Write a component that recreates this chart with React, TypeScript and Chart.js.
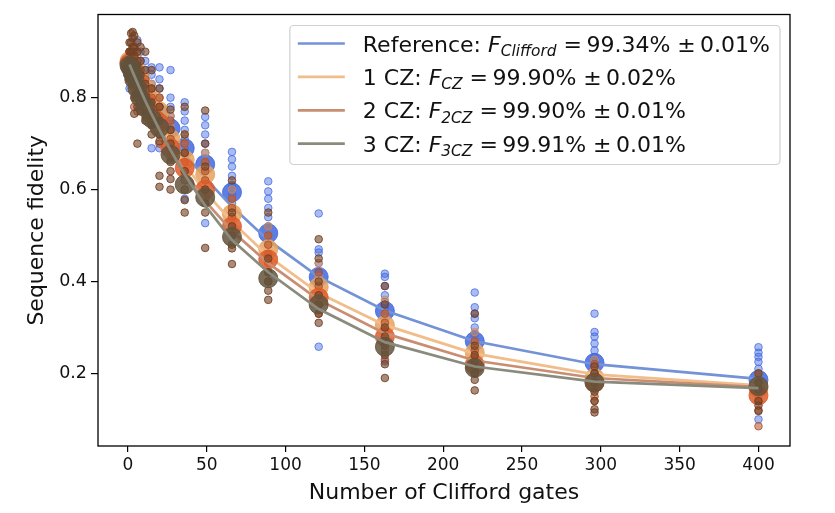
import React, { useEffect, useRef } from 'react';
import { Chart, registerables } from 'chart.js';

Chart.register(...registerables);

// ---------- data ----------
const seqLengths = [1, 2, 3, 4, 6, 8, 11, 15, 20, 27, 36, 49, 66, 89, 121, 163, 220, 296, 400];

const xTickValues = [0, 50, 100, 150, 200, 250, 300, 350, 400];
const yTickValues = [0.2, 0.4, 0.6, 0.8];

const legendPrefix = ['Reference: ', '1 CZ: ', '2 CZ: ', '3 CZ: '];
const legendSub = ['Clifford', 'CZ', '2CZ', '3CZ'];
const legendValue = ['99.34%', '99.90%', '99.90%', '99.91%'];
const legendErr = ['0.01%', '0.02%', '0.01%', '0.01%'];

// mean sequence fidelity (large markers)
const meanRef = [0.875, 0.865, 0.855, 0.85, 0.835, 0.82, 0.8, 0.79, 0.765, 0.733, 0.69, 0.655, 0.594, 0.505, 0.41, 0.336, 0.27, 0.223, 0.186];
const meanCZ1 = [0.88, 0.87, 0.865, 0.86, 0.845, 0.835, 0.815, 0.795, 0.77, 0.71, 0.665, 0.633, 0.547, 0.47, 0.388, 0.305, 0.245, 0.19, 0.168];
const meanCZ2 = [0.875, 0.87, 0.86, 0.85, 0.83, 0.81, 0.79, 0.765, 0.745, 0.69, 0.647, 0.6, 0.52, 0.448, 0.365, 0.28, 0.219, 0.18, 0.152];
const meanCZ3 = [0.87, 0.865, 0.855, 0.84, 0.82, 0.8, 0.78, 0.755, 0.735, 0.676, 0.611, 0.583, 0.497, 0.407, 0.35, 0.258, 0.212, 0.18, 0.172];

// fitted decay curves
const fitRef = [0.864, 0.858, 0.852, 0.846, 0.834, 0.822, 0.805, 0.782, 0.755, 0.72, 0.678, 0.625, 0.563, 0.49, 0.41, 0.337, 0.27, 0.22, 0.188];
const fitCZ1 = [0.868, 0.861, 0.854, 0.847, 0.834, 0.82, 0.8, 0.775, 0.745, 0.703, 0.655, 0.595, 0.53, 0.455, 0.375, 0.305, 0.243, 0.198, 0.174];
const fitCZ2 = [0.868, 0.86, 0.853, 0.845, 0.83, 0.815, 0.793, 0.766, 0.733, 0.69, 0.64, 0.575, 0.51, 0.44, 0.36, 0.287, 0.228, 0.19, 0.17];
const fitCZ3 = [0.872, 0.864, 0.856, 0.848, 0.832, 0.816, 0.793, 0.764, 0.73, 0.686, 0.633, 0.565, 0.49, 0.42, 0.34, 0.268, 0.215, 0.182, 0.168];

// individual random sequences (small markers), one list per sequence length
const scatterRef = [
  [0.9, 0.88, 0.86, 0.84, 0.82],
  [0.9, 0.88, 0.86, 0.84],
  [0.91, 0.89, 0.87, 0.85],
  [0.91, 0.89, 0.87, 0.85, 0.83],
  [0.925, 0.9, 0.88, 0.86, 0.84, 0.82],
  [0.9, 0.88, 0.86, 0.84, 0.82, 0.8],
  [0.88, 0.86, 0.84, 0.82, 0.8, 0.78],
  [0.866, 0.85, 0.83, 0.81, 0.79, 0.77, 0.69],
  [0.866, 0.84, 0.82, 0.8, 0.78, 0.76, 0.74, 0.69],
  [0.86, 0.8, 0.78, 0.76, 0.74, 0.72],
  [0.79, 0.77, 0.75, 0.73, 0.71, 0.69, 0.67, 0.58],
  [0.758, 0.74, 0.72, 0.7, 0.68, 0.66, 0.64, 0.527],
  [0.682, 0.666, 0.65, 0.63, 0.61, 0.59, 0.57, 0.55],
  [0.618, 0.596, 0.58, 0.56, 0.54, 0.52, 0.5, 0.48],
  [0.548, 0.47, 0.463, 0.44, 0.42, 0.4, 0.38, 0.258],
  [0.417, 0.41, 0.39, 0.37, 0.355, 0.34, 0.32, 0.3, 0.226],
  [0.376, 0.344, 0.33, 0.32, 0.3, 0.285, 0.27, 0.255, 0.24],
  [0.33, 0.29, 0.28, 0.265, 0.25, 0.235, 0.22, 0.2, 0.18],
  [0.257, 0.245, 0.236, 0.225, 0.21, 0.2, 0.19, 0.175, 0.1],
];
const scatterCZ1 = [
  [0.9, 0.88, 0.86],
  [0.9, 0.88, 0.86],
  [0.91, 0.89, 0.87, 0.85],
  [0.9, 0.88, 0.86, 0.84, 0.82],
  [0.89, 0.87, 0.85, 0.83, 0.81],
  [0.87, 0.85, 0.83, 0.81, 0.79],
  [0.85, 0.83, 0.81, 0.79, 0.77],
  [0.83, 0.81, 0.79, 0.77, 0.75],
  [0.8, 0.78, 0.76, 0.74, 0.72],
  [0.76, 0.74, 0.72, 0.7, 0.68],
  [0.72, 0.7, 0.68, 0.66, 0.64],
  [0.68, 0.66, 0.64, 0.62, 0.6],
  [0.6, 0.58, 0.56, 0.54, 0.52],
  [0.52, 0.5, 0.48, 0.46, 0.44],
  [0.44, 0.41, 0.39, 0.37, 0.35],
  [0.36, 0.33, 0.31, 0.29, 0.27],
  [0.29, 0.27, 0.255, 0.24, 0.225],
  [0.23, 0.21, 0.195, 0.18, 0.165],
  [0.2, 0.185, 0.17, 0.16, 0.15],
];
const scatterCZ2 = [
  [0.9, 0.88, 0.86, 0.84],
  [0.9, 0.88, 0.86, 0.84],
  [0.91, 0.89, 0.87, 0.85],
  [0.9, 0.88, 0.86, 0.84, 0.78],
  [0.88, 0.86, 0.84, 0.82, 0.8, 0.77],
  [0.86, 0.84, 0.82, 0.8, 0.78],
  [0.84, 0.82, 0.8, 0.78, 0.76],
  [0.82, 0.8, 0.78, 0.76, 0.74],
  [0.8, 0.78, 0.76, 0.74, 0.7],
  [0.75, 0.73, 0.71, 0.69, 0.67],
  [0.7, 0.68, 0.66, 0.64, 0.62],
  [0.66, 0.64, 0.62, 0.6, 0.58],
  [0.58, 0.56, 0.54, 0.52, 0.5],
  [0.5, 0.48, 0.46, 0.44, 0.42, 0.4],
  [0.42, 0.39, 0.37, 0.35, 0.33],
  [0.33, 0.31, 0.29, 0.27, 0.25, 0.23],
  [0.27, 0.25, 0.235, 0.22, 0.2],
  [0.22, 0.2, 0.185, 0.17, 0.15, 0.14],
  [0.18, 0.16, 0.14, 0.12, 0.085],
];
const scatterCZ3 = [
  [0.92, 0.9, 0.88, 0.86, 0.84],
  [0.94, 0.92, 0.9, 0.88, 0.86],
  [0.943, 0.93, 0.9, 0.88, 0.86, 0.84],
  [0.935, 0.91, 0.89, 0.86, 0.83, 0.8, 0.765],
  [0.92, 0.9, 0.87, 0.84, 0.81, 0.78, 0.7],
  [0.91, 0.88, 0.85, 0.82, 0.79, 0.77],
  [0.9, 0.86, 0.83, 0.8, 0.77, 0.75],
  [0.86, 0.82, 0.79, 0.76, 0.74, 0.72],
  [0.82, 0.78, 0.75, 0.72, 0.705, 0.63, 0.606],
  [0.774, 0.73, 0.7, 0.66, 0.64, 0.623, 0.6],
  [0.78, 0.72, 0.68, 0.64, 0.6, 0.577, 0.55],
  [0.772, 0.7, 0.65, 0.6, 0.57, 0.55, 0.473],
  [0.62, 0.55, 0.52, 0.5, 0.48, 0.472, 0.438],
  [0.55, 0.45, 0.42, 0.4, 0.38, 0.36],
  [0.492, 0.45, 0.4, 0.37, 0.35, 0.33, 0.31],
  [0.39, 0.35, 0.3, 0.28, 0.26, 0.24, 0.22, 0.19],
  [0.33, 0.26, 0.24, 0.225, 0.21, 0.2, 0.186, 0.163],
  [0.215, 0.2, 0.18, 0.16, 0.14, 0.122, 0.115],
  [0.2, 0.18, 0.165, 0.14, 0.13, 0.118],
];

// ---------- styles ----------
const FONT = '"DejaVu Sans", Verdana, sans-serif';
const smallColors = ['rgba(65,105,225,0.45)', 'rgba(215,140,75,0.5)', 'rgba(180,80,40,0.55)', 'rgba(118,68,38,0.62)'];
const smallBorders = ['rgba(65,105,225,0.75)', 'rgba(215,140,75,0.75)', 'rgba(170,75,40,0.8)', 'rgba(110,62,34,0.85)'];
const meanColors = ['rgba(65,105,225,0.85)', 'rgba(232,162,95,0.85)', 'rgba(222,92,42,0.85)', 'rgba(98,82,60,0.85)'];
const lineColors = ['#7393d6', '#f1bd8a', '#c98e72', '#8b8b7d'];

const meansAll = [meanRef, meanCZ1, meanCZ2, meanCZ3];
const fitsAll = [fitRef, fitCZ1, fitCZ2, fitCZ3];
const scatterAll = [scatterRef, scatterCZ1, scatterCZ2, scatterCZ3];

function buildDatasets() {
  const ds: any[] = [];
  for (let i = 0; i < 4; i++) {
    const pts: { x: number; y: number }[] = [];
    scatterAll[i].forEach((col, k) => col.forEach((v) => pts.push({ x: seqLengths[k], y: v })));
    const base = 100 - i * 3;
    ds.push({
      label: legendPrefix[i] + 'shots',
      data: pts,
      pointRadius: 3.8,
      pointBackgroundColor: smallColors[i],
      pointBorderColor: smallBorders[i],
      pointBorderWidth: 1,
      showLine: false,
      order: base,
    });
    ds.push({
      label: legendPrefix[i] + 'mean',
      data: seqLengths.map((x, k) => ({ x, y: meansAll[i][k] })),
      pointRadius: 9.5,
      pointBackgroundColor: meanColors[i],
      pointBorderColor: meanColors[i],
      pointBorderWidth: 1,
      showLine: false,
      order: base - 1,
    });
    ds.push({
      label: legendPrefix[i] + 'fit',
      data: seqLengths.map((x, k) => ({ x, y: fitsAll[i][k] })),
      pointRadius: 0,
      showLine: true,
      borderColor: lineColors[i],
      borderWidth: 2.7,
      fill: false,
      order: base - 2,
    });
  }
  return ds;
}

const framePlugin = {
  id: 'frame',
  afterDatasetsDraw(chart: any) {
    const { ctx, chartArea } = chart;
    ctx.save();
    ctx.strokeStyle = '#000';
    ctx.lineWidth = 1.3;
    ctx.strokeRect(chartArea.left, chartArea.top, chartArea.right - chartArea.left, chartArea.bottom - chartArea.top);
    ctx.restore();
  },
};

const legendPlugin = {
  id: 'mathLegend',
  afterDraw(chart: any) {
    const { ctx, chartArea } = chart;
    const mainFont = `22px ${FONT}`;
    const itFont = `italic 22px ${FONT}`;
    const subFont = `italic 15.4px ${FONT}`;
    const sp = '\u2009';
    ctx.save();
    const rows = legendPrefix.map((p, i) => [
      { t: p, f: mainFont, dy: 0 },
      { t: 'F', f: itFont, dy: 0 },
      { t: legendSub[i], f: subFont, dy: 4.5 },
      { t: ' =' + sp + legendValue[i] + ' \u00b1' + sp + legendErr[i], f: mainFont, dy: 0 },
    ]);
    const widths = rows.map((parts) =>
      parts.reduce((w, p) => {
        ctx.font = p.f;
        return w + ctx.measureText(p.t).width;
      }, 0)
    );
    const maxW = Math.max(...widths);
    const padL = 8, lineLen = 47, gap = 18, padR = 10;
    const right = chartArea.right - 10;
    const top = chartArea.top + 11;
    const boxW = padL + lineLen + gap + maxW + padR;
    const left = right - boxW;
    const rowH = 33.4;
    const boxH = 139;
    ctx.beginPath();
    ctx.roundRect(left, top, boxW, boxH, 4);
    ctx.fillStyle = 'rgba(255,255,255,0.8)';
    ctx.fill();
    ctx.strokeStyle = '#d0d0d0';
    ctx.lineWidth = 1.2;
    ctx.stroke();
    rows.forEach((parts, i) => {
      const cy = top + 18 + i * rowH;
      ctx.beginPath();
      ctx.moveTo(left + padL, cy);
      ctx.lineTo(left + padL + lineLen, cy);
      ctx.strokeStyle = lineColors[i];
      ctx.lineWidth = 2.7;
      ctx.stroke();
      let x = left + padL + lineLen + gap;
      ctx.fillStyle = '#111';
      ctx.textBaseline = 'alphabetic';
      ctx.textAlign = 'left';
      parts.forEach((p) => {
        ctx.font = p.f;
        ctx.fillText(p.t, x, cy + 8 + p.dy);
        x += ctx.measureText(p.t).width;
      });
    });
    ctx.restore();
  },
};

export default function App() {
  const ref = useRef<HTMLCanvasElement | null>(null);
  useEffect(() => {
    if (!ref.current) return;
    const chart = new Chart(ref.current, {
      type: 'scatter',
      data: { datasets: buildDatasets() },
      options: {
        animation: false,
        responsive: false,
        devicePixelRatio: 1,
        layout: { padding: { left: 0, top: 12, right: 45, bottom: 0 } },
        plugins: { legend: { display: false }, tooltip: { enabled: false } },
        scales: {
          x: {
            type: 'linear',
            min: -19,
            max: 420,
            afterBuildTicks: (scale: any) => {
              scale.ticks = xTickValues.map((v) => ({ value: v }));
            },
            afterFit: (scale: any) => {
              scale.height = 67;
            },
            grid: { display: true, drawOnChartArea: false, drawTicks: true, tickLength: 6, color: '#000', lineWidth: 1.2 },
            border: { display: false },
            ticks: {
              color: '#111',
              font: { family: FONT, size: 17 },
              padding: 3,
              maxRotation: 0,
              callback: (v: any) => String(v),
            },
            title: {
              display: true,
              text: 'Number of Clifford gates',
              color: '#111',
              font: { family: FONT, size: 22 },
              padding: { top: 0, bottom: 7 },
            },
          },
          y: {
            type: 'linear',
            min: 0.042,
            max: 0.981,
            afterBuildTicks: (scale: any) => {
              scale.ticks = yTickValues.map((v) => ({ value: v }));
            },
            afterFit: (scale: any) => {
              scale.width = 98;
            },
            grid: { display: true, drawOnChartArea: false, drawTicks: true, tickLength: 7, color: '#000', lineWidth: 1.2 },
            border: { display: false },
            ticks: {
              color: '#111',
              font: { family: FONT, size: 17.5 },
              padding: 4,
              callback: (v: any) => Number(v).toFixed(1),
            },
            title: {
              display: true,
              text: 'Sequence fidelity',
              color: '#111',
              font: { family: FONT, size: 22 },
              padding: { top: 24, bottom: 0 },
            },
          },
        },
      },
      plugins: [framePlugin, legendPlugin],
    });
    return () => chart.destroy();
  }, []);
  return (
    <div style={{ position: 'absolute', left: 0, top: 0, width: 835, height: 513, background: '#fff' }}>
      <canvas ref={ref} width={835} height={513} style={{ display: 'block' }} />
    </div>
  );
}
